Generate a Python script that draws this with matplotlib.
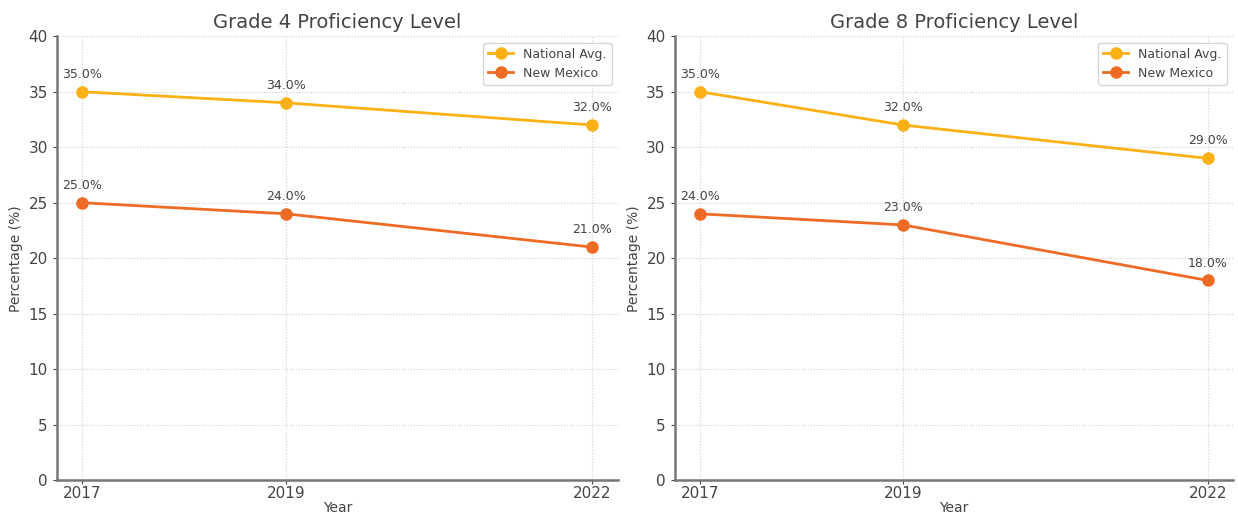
import numpy as np
import matplotlib.pyplot as plt

years = [2017, 2019, 2022]
grade4_national = [35.0, 34.0, 32.0]
grade4_nm = [25.0, 24.0, 21.0]
grade8_national = [35.0, 32.0, 29.0]
grade8_nm = [24.0, 23.0, 18.0]

titles = ['Grade 4 Proficiency Level', 'Grade 8 Proficiency Level']
series = [(grade4_national, grade4_nm), (grade8_national, grade8_nm)]

col_nat = '#FBB016'
col_nm = '#EE6B26'
txt = '#444444'

fig = plt.figure(figsize=(12.38, 5.18), dpi=100)
boxes = [[0.046, 0.073, 0.453, 0.857], [0.545, 0.073, 0.451, 0.857]]

for box, title, (nat, nm) in zip(boxes, titles, series):
    ax = fig.add_axes(box)
    ax.plot(years, nat, '-o', color=col_nat, lw=2, ms=8, label='National Avg.')
    ax.plot(years, nm, '-o', color=col_nm, lw=2, ms=8, label='New Mexico')
    for x, y in zip(years, nat):
        ax.annotate(f'{y:.1f}%', (x, y), xytext=(0, 10), textcoords='offset points',
                    ha='center', fontsize=9, color=txt)
    for x, y in zip(years, nm):
        ax.annotate(f'{y:.1f}%', (x, y), xytext=(0, 10), textcoords='offset points',
                    ha='center', fontsize=9, color=txt)
    ax.set_xlim(2016.75, 2022.25)
    ax.set_ylim(0, 40)
    ax.set_xticks(years)
    ax.set_yticks(np.arange(0, 41, 5))
    ax.set_title(title, fontsize=14, color=txt, pad=6)
    ax.set_xlabel('Year', fontsize=10, color=txt, labelpad=0)
    ax.set_ylabel('Percentage (%)', fontsize=10, color=txt)
    ax.grid(True, ls=':', color='#cccccc', lw=0.8)
    for s in ['top', 'right']:
        ax.spines[s].set_visible(False)
    for s in ['left', 'bottom']:
        ax.spines[s].set_color('#777777')
        ax.spines[s].set_linewidth(1.8)
    ax.tick_params(colors=txt, labelsize=11, length=3)
    ax.tick_params(axis='x', pad=1)
    leg = ax.legend(loc='upper right', fontsize=9, frameon=True)
    for t in leg.get_texts():
        t.set_color(txt)

fig.savefig('out.png', dpi=100)
